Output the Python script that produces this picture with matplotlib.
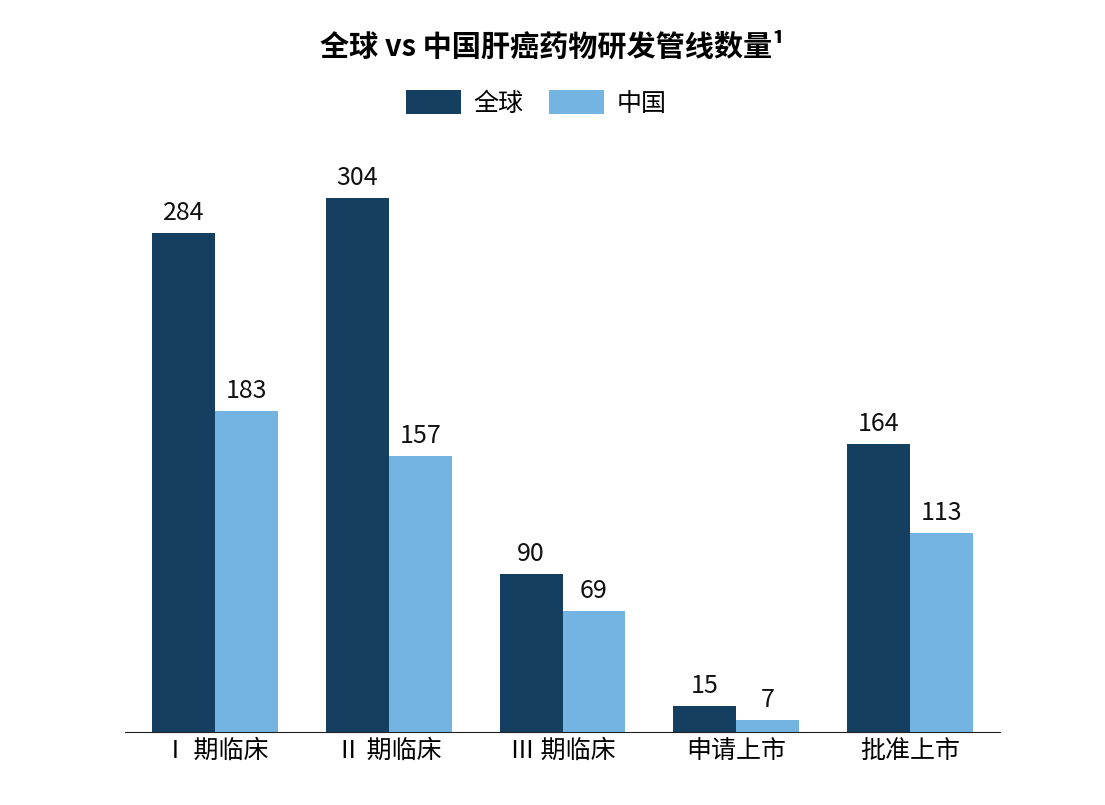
import matplotlib
matplotlib.use('Agg')
import matplotlib.pyplot as plt
import numpy as np

plt.rcParams['font.family'] = ['Noto Sans CJK SC', 'DejaVu Sans']

categories = ['Ⅰ 期临床', 'Ⅱ 期临床', 'Ⅲ 期临床', '申请上市', '批准上市']
global_vals = [284, 304, 90, 15, 164]
china_vals = [183, 157, 69, 7, 113]

c_dark = '#143F60'
c_light = '#74B4E2'

fig = plt.figure(figsize=(11.05, 8.05), dpi=100)
ax = fig.add_axes([125 / 1105, 73 / 805, 875 / 1105, 592 / 805])

x = np.arange(len(categories))
w = 0.362
b1 = ax.bar(x - w / 2, global_vals, w, color=c_dark, label='全球')
b2 = ax.bar(x + w / 2, china_vals, w, color=c_light, label='中国')

for bars, vals in ((b1, global_vals), (b2, china_vals)):
    for r, v in zip(bars, vals):
        ax.text(r.get_x() + r.get_width() / 2, v + 4, str(v), ha='center', va='bottom',
                fontsize=18, color='#111111')

ax.set_xlim(-0.52, 4.52)
ax.set_ylim(0, 337)
ax.set_yticks([])
for s in ('top', 'right', 'left'):
    ax.spines[s].set_visible(False)
ax.spines['bottom'].set_color('#222222')
ax.set_xticks(x)
ax.set_xticklabels(categories, fontsize=18)
ax.tick_params(axis='x', length=0, pad=4)

fig.text(0.5, 0.942, '全球 vs 中国肝癌药物研发管线数量¹', ha='center', va='center',
         fontsize=21, fontweight='bold')
ax.legend(loc='center', bbox_to_anchor=(0.47, 1.062), ncol=2, frameon=False,
          fontsize=18, handlelength=2.2, handleheight=1.1, columnspacing=1.0, handletextpad=0.5)

fig.savefig('out.png', dpi=100)
